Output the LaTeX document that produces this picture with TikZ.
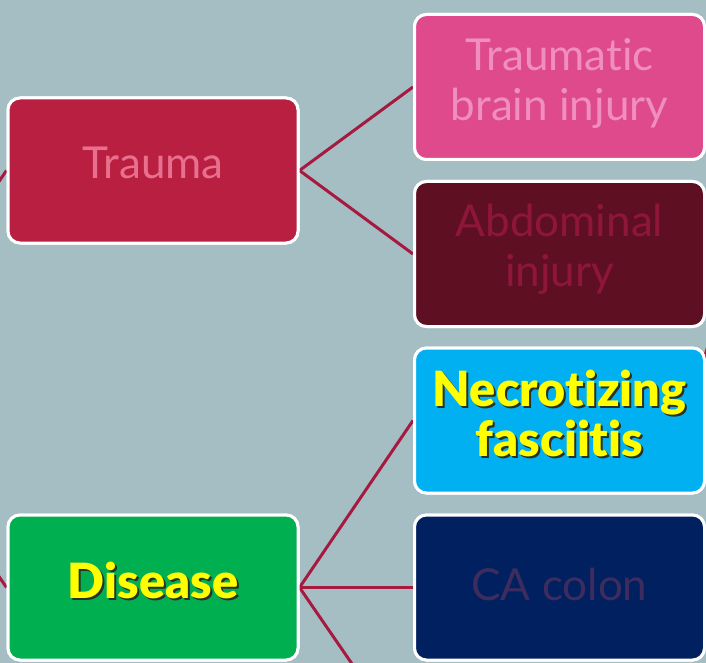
\documentclass[tikz,border=0pt]{standalone}
\usepackage{fontspec}
\setmainfont{Lato}[Ligatures=NoCommon, BoldFont={Lato Black}]
\definecolor{bg}{RGB}{165,190,196}
\definecolor{link}{RGB}{165,26,62}
\definecolor{traumaF}{RGB}{184,31,65}
\definecolor{traumaT}{RGB}{232,112,142}
\definecolor{tbiF}{RGB}{222,74,140}
\definecolor{tbiT}{RGB}{240,142,190}
\definecolor{abdF}{RGB}{94,16,34}
\definecolor{abdT}{RGB}{142,22,56}
\definecolor{necF}{RGB}{0,176,240}
\definecolor{caF}{RGB}{0,32,96}
\definecolor{caT}{RGB}{62,44,94}
\definecolor{disF}{RGB}{0,176,80}
\definecolor{yel}{RGB}{255,255,0}
\definecolor{shad}{RGB}{40,50,40}
\tikzset{
  card/.style={draw=white, line width=3pt, rounded corners=12pt, minimum width=290pt, minimum height=145pt, inner sep=0pt},
  lighttext/.style={align=center, inner sep=0pt, font=\fontsize{44}{50}\selectfont},
  boldtext/.style={align=center, inner sep=0pt, font=\fontsize{48.5}{50}\selectfont\bfseries},
  link/.style={draw=link, line width=3pt}
}
\begin{document}
\begin{tikzpicture}[x=1pt,y=-1pt]
\useasboundingbox (0,0) rectangle (706,663);
\clip (0,0) rectangle (706,663);
\fill[bg] (0,0) rectangle (706,663);
\coordinate (root) at (-136,378.5);
\coordinate (dis3) at (414,754);
\coordinate (edgeA) at (703.5,360);
\coordinate (edgeB) at (709,343);
\coordinate (cT) at (153,170.5);
\coordinate (cTBI) at (559.5,87);
\coordinate (cAbd) at (559.5,254);
\coordinate (cNec) at (559.5,420.5);
\coordinate (cCA) at (559.5,587.5);
\coordinate (cDis) at (153,587.5);
% boxes used as anchors for connectors
\node[card] (trauma) at (cT) {};
\node[card] (tbi) at (cTBI) {};
\node[card] (abd) at (cAbd) {};
\node[card] (nec) at (cNec) {};
\node[card] (ca) at (cCA) {};
\node[card] (dis) at (cDis) {};
\draw[link] (root) -- (trauma.west);
\draw[link] (root) -- (dis.west);
\draw[link] (trauma.east) -- (tbi.west);
\draw[link] (trauma.east) -- (abd.west);
\draw[link] (dis.east) -- (nec.west);
\draw[link] (dis.east) -- (ca.west);
\draw[link] (dis.east) -- (dis3);
\draw[link] (edgeA) -- (edgeB);
% filled boxes on top of connectors
\node[card, fill=traumaF] (traumaBox) at (cT) {};
\node[card, fill=tbiF] (tbiBox) at (cTBI) {};
\node[card, fill=abdF] (abdBox) at (cAbd) {};
\node[card, fill=necF] (necBox) at (cNec) {};
\node[card, fill=caF] (caBox) at (cCA) {};
\node[card, fill=disF] (disBox) at (cDis) {};
% texts
\node[lighttext, text=traumaT] (tTrauma) at ([yshift=8pt]cT) {Trauma};
\node[lighttext, text=tbiT] (tTBI) at ([yshift=3.5pt]cTBI) {Traumatic\\brain injury};
\node[lighttext, text=abdT] (tAbd) at ([yshift=5pt]cAbd) {Abdominal\\injury};
\node[lighttext, text=caT] (tCA) at ([yshift=3.5pt]cCA) {CA colon};
\node[boldtext, text=shad] (sNec) at ([xshift=2pt,yshift=5pt]cNec) {Necrotizing\\fasciitis};
\node[boldtext, text=yel] (tNec) at ([yshift=7pt]cNec) {Necrotizing\\fasciitis};
\node[boldtext, text=shad] (sDis) at ([xshift=2pt,yshift=5pt]cDis) {Disease};
\node[boldtext, text=yel] (tDis) at ([yshift=7pt]cDis) {Disease};
\end{tikzpicture}
\end{document}
